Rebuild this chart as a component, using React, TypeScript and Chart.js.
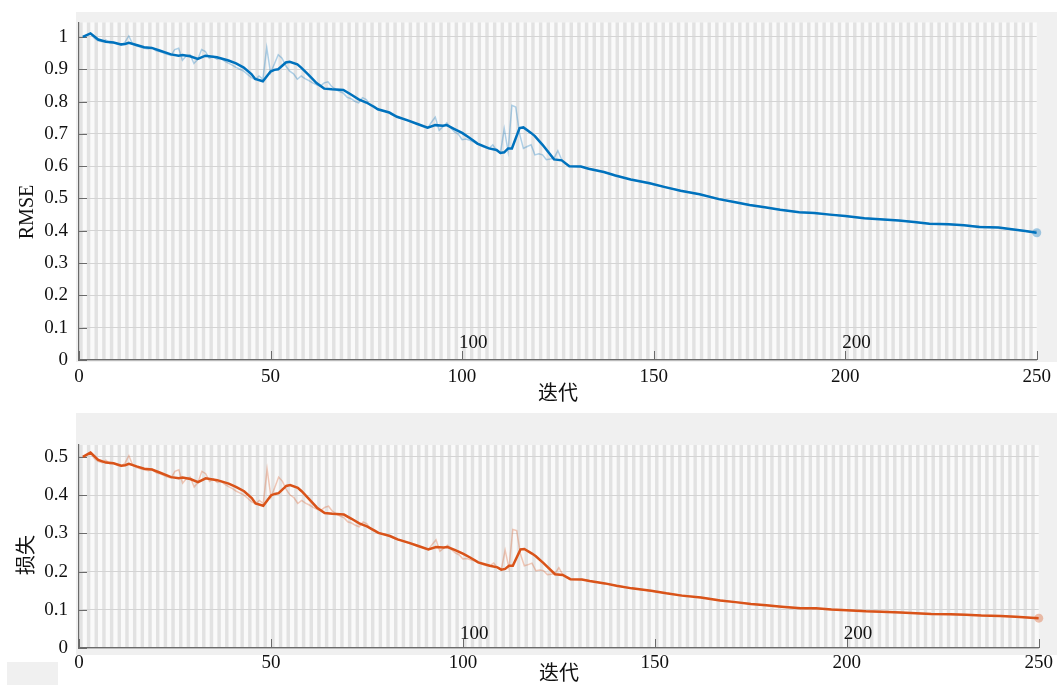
import React, { useEffect, useRef } from "react";
import { Chart, registerables } from "chart.js";

Chart.register(...registerables);

// ---------- data ----------
const xTickValues = [0, 50, 100, 150, 200, 250];
const epochTickValues = [100, 200];
const rmseTickValues = [0, 0.1, 0.2, 0.3, 0.4, 0.5, 0.6, 0.7, 0.8, 0.9, 1];
const lossTickValues = [0, 0.1, 0.2, 0.3, 0.4, 0.5];

// smoothed curves (iteration, value)
const smoothIters = [1, 3, 5, 7, 9, 11, 12, 13, 15, 17, 19, 21, 24, 26, 27, 29, 31, 33, 36, 39, 41, 43, 45, 46, 48, 50, 51, 52, 54, 55, 57, 58, 60, 62, 64, 66, 69, 71, 73, 75, 77, 78, 81, 83, 86, 88, 91, 93, 95, 96, 98, 100, 102, 104, 107, 109, 110, 111, 112, 113, 115, 116, 118, 119, 121, 124, 126, 128, 131, 133, 137, 140, 144, 149, 153, 157, 162, 167, 171, 175, 179, 183, 188, 192, 196, 200, 205, 209, 214, 218, 222, 227, 231, 235, 240, 244, 247, 250];
const smoothRmse = [1.0, 1.011, 0.992, 0.985, 0.983, 0.977, 0.978, 0.982, 0.975, 0.968, 0.966, 0.958, 0.946, 0.942, 0.944, 0.94, 0.932, 0.942, 0.937, 0.927, 0.918, 0.905, 0.885, 0.87, 0.863, 0.893, 0.898, 0.9, 0.921, 0.923, 0.915, 0.905, 0.882, 0.857, 0.84, 0.838, 0.836, 0.822, 0.807, 0.797, 0.784, 0.776, 0.766, 0.753, 0.741, 0.732, 0.719, 0.727, 0.725, 0.727, 0.715, 0.703, 0.687, 0.67, 0.655, 0.65, 0.641, 0.643, 0.655, 0.655, 0.718, 0.72, 0.703, 0.693, 0.666, 0.621, 0.618, 0.6, 0.599, 0.592, 0.582, 0.571, 0.559, 0.547, 0.535, 0.524, 0.513, 0.498, 0.489, 0.48, 0.473, 0.465, 0.457, 0.455, 0.45, 0.446, 0.439, 0.436, 0.432, 0.427, 0.422, 0.42, 0.417, 0.412, 0.41, 0.404, 0.399, 0.394];
const smoothLoss = [0.5, 0.511, 0.492, 0.485, 0.483, 0.477, 0.478, 0.482, 0.475, 0.469, 0.467, 0.459, 0.447, 0.444, 0.446, 0.442, 0.434, 0.444, 0.439, 0.43, 0.421, 0.41, 0.392, 0.378, 0.372, 0.399, 0.403, 0.405, 0.424, 0.426, 0.419, 0.41, 0.389, 0.367, 0.353, 0.351, 0.349, 0.338, 0.326, 0.318, 0.307, 0.301, 0.293, 0.284, 0.275, 0.268, 0.258, 0.264, 0.263, 0.264, 0.256, 0.247, 0.236, 0.224, 0.215, 0.211, 0.205, 0.207, 0.215, 0.215, 0.258, 0.259, 0.247, 0.24, 0.222, 0.193, 0.191, 0.18, 0.179, 0.175, 0.169, 0.163, 0.156, 0.15, 0.143, 0.137, 0.132, 0.124, 0.12, 0.115, 0.112, 0.108, 0.104, 0.104, 0.101, 0.099, 0.096, 0.095, 0.093, 0.091, 0.089, 0.088, 0.087, 0.085, 0.084, 0.082, 0.08, 0.078];

// raw (unsmoothed) curves
const rawIters = [1, 2, 3, 4, 5, 6, 7, 8, 9, 10, 11, 12, 13, 14, 15, 16, 17, 18, 19, 20, 21, 22, 23, 24, 25, 26, 27, 28, 29, 30, 31, 32, 33, 34, 35, 36, 37, 38, 39, 40, 41, 42, 43, 44, 45, 46, 47, 48, 49, 50, 51, 52, 53, 54, 55, 56, 57, 58, 59, 60, 61, 62, 63, 64, 65, 66, 67, 68, 69, 70, 71, 72, 73, 74, 75, 76, 77, 78, 79, 80, 81, 82, 83, 84, 85, 86, 87, 88, 89, 90, 91, 92, 93, 94, 95, 96, 97, 98, 99, 100, 101, 102, 103, 104, 105, 106, 107, 108, 109, 110, 111, 112, 113, 114, 115, 116, 117, 118, 119, 120, 121, 122, 123, 124, 125, 126, 127, 128, 131, 137, 144, 153, 162, 171, 179, 188, 196, 205, 214, 222, 231, 240, 250];
const rawRmse = [1.0, 1.006, 1.01, 0.996, 0.988, 0.985, 0.991, 0.982, 0.983, 0.978, 0.975, 0.984, 1.003, 0.978, 0.972, 0.969, 0.965, 0.963, 0.967, 0.958, 0.955, 0.951, 0.946, 0.943, 0.961, 0.965, 0.928, 0.941, 0.945, 0.918, 0.931, 0.961, 0.955, 0.934, 0.94, 0.931, 0.934, 0.925, 0.919, 0.913, 0.906, 0.9, 0.894, 0.884, 0.874, 0.868, 0.879, 0.869, 0.967, 0.889, 0.916, 0.945, 0.934, 0.91, 0.894, 0.886, 0.869, 0.879, 0.871, 0.865, 0.858, 0.852, 0.848, 0.858, 0.861, 0.846, 0.838, 0.831, 0.826, 0.813, 0.809, 0.801, 0.796, 0.812, 0.806, 0.789, 0.781, 0.776, 0.772, 0.769, 0.764, 0.757, 0.752, 0.749, 0.744, 0.74, 0.736, 0.731, 0.727, 0.722, 0.718, 0.736, 0.752, 0.711, 0.722, 0.734, 0.719, 0.706, 0.699, 0.682, 0.684, 0.68, 0.675, 0.668, 0.662, 0.658, 0.655, 0.666, 0.648, 0.64, 0.716, 0.646, 0.788, 0.783, 0.7, 0.655, 0.661, 0.666, 0.635, 0.638, 0.635, 0.62, 0.622, 0.625, 0.648, 0.62, 0.606, 0.6, 0.599, 0.582, 0.559, 0.535, 0.513, 0.489, 0.473, 0.457, 0.45, 0.439, 0.432, 0.422, 0.417, 0.41, 0.394];
const rawLoss = [0.5, 0.506, 0.51, 0.496, 0.488, 0.485, 0.491, 0.482, 0.483, 0.478, 0.475, 0.484, 0.503, 0.478, 0.472, 0.469, 0.466, 0.464, 0.468, 0.459, 0.456, 0.452, 0.447, 0.445, 0.462, 0.466, 0.431, 0.443, 0.447, 0.421, 0.433, 0.462, 0.456, 0.436, 0.442, 0.433, 0.436, 0.428, 0.422, 0.417, 0.41, 0.405, 0.4, 0.391, 0.382, 0.377, 0.386, 0.378, 0.468, 0.395, 0.42, 0.447, 0.436, 0.414, 0.4, 0.393, 0.378, 0.386, 0.379, 0.374, 0.368, 0.363, 0.36, 0.368, 0.371, 0.358, 0.351, 0.345, 0.341, 0.33, 0.327, 0.321, 0.317, 0.33, 0.325, 0.311, 0.305, 0.301, 0.298, 0.296, 0.292, 0.287, 0.283, 0.281, 0.277, 0.274, 0.271, 0.267, 0.264, 0.261, 0.258, 0.271, 0.283, 0.253, 0.261, 0.269, 0.258, 0.249, 0.244, 0.233, 0.234, 0.231, 0.228, 0.223, 0.219, 0.216, 0.215, 0.222, 0.21, 0.205, 0.256, 0.209, 0.31, 0.307, 0.245, 0.215, 0.218, 0.222, 0.202, 0.204, 0.202, 0.192, 0.193, 0.195, 0.21, 0.192, 0.184, 0.18, 0.179, 0.169, 0.156, 0.143, 0.132, 0.12, 0.112, 0.104, 0.101, 0.096, 0.093, 0.089, 0.087, 0.084, 0.078];

// ---------- style ----------
const SERIF = '"Liberation Serif", "Times New Roman", serif';
const CJK = '"Liberation Serif", "Noto Sans CJK SC", serif';
const TEXT = "#111111";
const AXIS = "#6b6b6b";
const PANEL = "#f0f0f0";
const STRIPE_LIGHT = "#fafafa";
const STRIPE_DARK = "#e2e2e2";
const GRID = "#d4d4d4";
const FS = 19;

type PanelSpec = {
  height: number;
  padTop: number;
  xAxisHeight: number;
  yMax: number;
  yTicks: number[];
  yTitle: string;
  yTitleY: number;
  panels: number[][];
  smoothIters: number[];
  smoothVals: number[];
  rawIters: number[];
  rawVals: number[];
  dark: string;
  light: string;
  marker: string;
  xTickPad: number;
  epochLabelOffset: number;
};

function buildChart(canvas: HTMLCanvasElement, s: PanelSpec) {
  const decor = {
    id: "decor",
    beforeDraw(chart: any) {
      const { ctx, chartArea } = chart;
      const { left, right, top, bottom } = chartArea;
      const x = chart.scales.x;
      ctx.save();
      ctx.fillStyle = PANEL;
      s.panels.forEach((p) => ctx.fillRect(p[0], p[1], p[2], p[3]));
      ctx.fillStyle = STRIPE_LIGHT;
      ctx.fillRect(left, top, right - left, bottom - top);
      ctx.fillStyle = STRIPE_DARK;
      for (let i = 0; i < 250; i += 2) {
        const a = x.getPixelForValue(i);
        const b = x.getPixelForValue(i + 1);
        ctx.fillRect(a + 0.2, top, b - a - 0.4, bottom - top);
      }
      ctx.restore();
    },
    beforeDatasetsDraw(chart: any) {
      const { ctx, chartArea } = chart;
      const { left, bottom } = chartArea;
      const x = chart.scales.x;
      const y = chart.scales.y;
      ctx.save();
      ctx.strokeStyle = AXIS;
      ctx.lineWidth = 1;
      ctx.beginPath();
      xTickValues.forEach((v) => {
        const px = Math.round(x.getPixelForValue(v)) + 0.5;
        ctx.moveTo(px, bottom);
        ctx.lineTo(px, bottom - 9);
      });
      s.yTicks.forEach((v) => {
        const py = Math.round(y.getPixelForValue(v)) + 0.5;
        ctx.moveTo(left, py);
        ctx.lineTo(left + 8, py);
      });
      ctx.stroke();
      ctx.fillStyle = TEXT;
      ctx.font = `${FS}px ${SERIF}`;
      ctx.textAlign = "left";
      ctx.textBaseline = "alphabetic";
      epochTickValues.forEach((v) => {
        const px = x.getPixelForValue(v);
        ctx.fillText(String(v), px - 3, bottom - s.epochLabelOffset);
      });
      ctx.restore();
    },
    afterDraw(chart: any) {
      const { ctx } = chart;
      ctx.save();
      ctx.fillStyle = TEXT;
      ctx.font = `20px ${CJK}`;
      ctx.textAlign = "center";
      ctx.textBaseline = "middle";
      ctx.translate(28, s.yTitleY);
      ctx.rotate(-Math.PI / 2);
      ctx.fillText(s.yTitle, 0, 0);
      ctx.restore();
    },
  };

  const lastRaw = s.rawIters.length - 1;

  return new Chart(canvas, {
    type: "line",
    plugins: [decor],
    data: {
      datasets: [
        {
          data: s.smoothIters.map((it, i) => ({ x: it, y: s.smoothVals[i] })),
          borderColor: s.dark,
          borderWidth: 2.5,
          pointRadius: 0,
          tension: 0,
        },
        {
          data: s.rawIters.map((it, i) => ({ x: it, y: s.rawVals[i] })),
          borderColor: s.light,
          borderWidth: 1.5,
          pointRadius: (c: any) => (c.dataIndex === lastRaw ? 4.5 : 0),
          pointBackgroundColor: s.marker,
          pointBorderColor: s.marker,
          pointBorderWidth: 0,
          tension: 0,
          clip: false as any,
        },
      ],
    },
    options: {
      animation: false,
      responsive: false,
      devicePixelRatio: 1,
      events: [],
      layout: { padding: { left: 0, right: 17, top: s.padTop, bottom: 0 } },
      plugins: { legend: { display: false }, tooltip: { enabled: false } },
      scales: {
        x: {
          type: "linear",
          min: 0,
          max: 250,
          afterBuildTicks: (sc: any) => {
            sc.ticks = xTickValues.map((v) => ({ value: v }));
          },
          afterFit: (sc: any) => {
            sc.height = s.xAxisHeight;
          },
          grid: { display: false, drawTicks: false },
          border: { display: true, color: AXIS, width: 1.2 },
          ticks: {
            autoSkip: false,
            maxRotation: 0,
            padding: s.xTickPad,
            color: TEXT,
            font: { family: SERIF, size: FS },
            callback: (v: any) => String(v),
          },
          title: {
            display: true,
            text: "迭代",
            color: TEXT,
            font: { family: CJK, size: 20, lineHeight: 1.0 },
            padding: { top: 0, bottom: 0 },
          },
        },
        y: {
          type: "linear",
          min: 0,
          max: s.yMax,
          afterBuildTicks: (sc: any) => {
            sc.ticks = s.yTicks.map((v) => ({ value: v }));
          },
          afterFit: (sc: any) => {
            sc.width = 79;
          },
          grid: { color: GRID, lineWidth: 1, drawTicks: false },
          border: { display: true, color: AXIS, width: 1.2 },
          ticks: {
            padding: 11,
            color: TEXT,
            font: { family: SERIF, size: FS },
            callback: (v: any) => String(v),
          },
        },
      },
    },
  } as any);
}

const topSpec: PanelSpec = {
  height: 405,
  padTop: 17,
  xAxisHeight: 45,
  yMax: 1.045,
  yTicks: rmseTickValues,
  yTitle: "RMSE",
  yTitleY: 212,
  panels: [[76, 12, 981, 350]],
  smoothIters,
  smoothVals: smoothRmse,
  rawIters,
  rawVals: rawRmse,
  dark: "#0072BD",
  light: "rgba(0,114,189,0.3)",
  marker: "rgba(0,114,189,0.35)",
  xTickPad: 6,
  epochLabelOffset: 12,
};

const bottomSpec: PanelSpec = {
  height: 280,
  padTop: 40,
  xAxisHeight: 37,
  yMax: 0.531,
  yTicks: lossTickValues,
  yTitle: "损失",
  yTitleY: 150,
  panels: [
    [76, 8, 981, 242],
    [7, 257, 51, 23],
  ],
  smoothIters,
  smoothVals: smoothLoss,
  rawIters,
  rawVals: rawLoss,
  dark: "#D95319",
  light: "rgba(217,83,25,0.3)",
  marker: "rgba(217,83,25,0.35)",
  xTickPad: 4,
  epochLabelOffset: 9,
};

function Panel({ spec, top }: { spec: PanelSpec; top: number }) {
  const ref = useRef<HTMLCanvasElement | null>(null);
  useEffect(() => {
    if (!ref.current) return;
    const chart = buildChart(ref.current, spec);
    return () => chart.destroy();
  }, [spec]);
  return (
    <canvas
      ref={ref}
      width={1057}
      height={spec.height}
      style={{ position: "absolute", left: 0, top, width: 1057, height: spec.height, display: "block" }}
    />
  );
}

export default function App() {
  return (
    <div
      style={{
        position: "fixed",
        left: 0,
        top: 0,
        width: 1057,
        height: 685,
        background: "#ffffff",
        overflow: "hidden",
      }}
    >
      <Panel spec={topSpec} top={0} />
      <Panel spec={bottomSpec} top={405} />
    </div>
  );
}
